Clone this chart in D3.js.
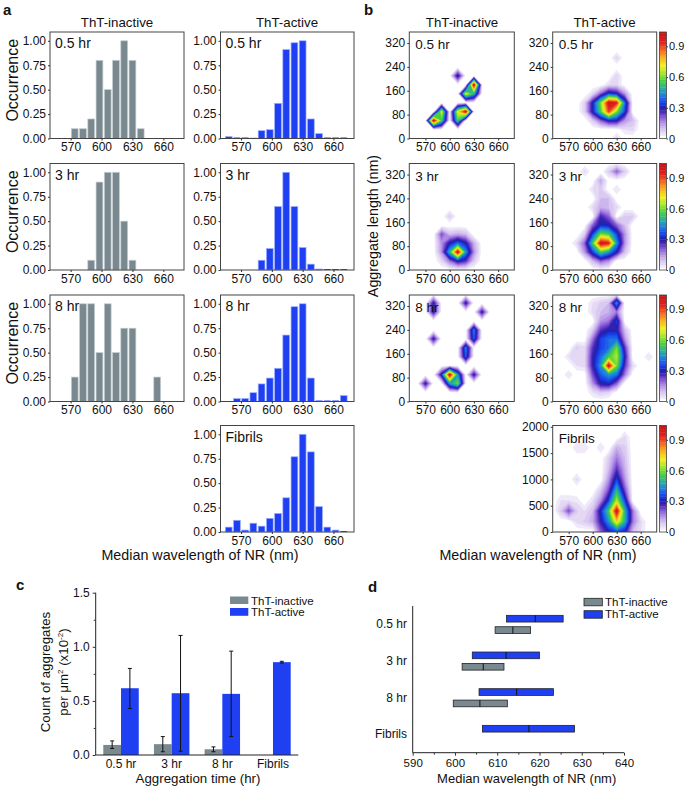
<!DOCTYPE html>
<html><head><meta charset="utf-8">
<script src="https://cdn.jsdelivr.net/npm/d3@7"></script>
<style>
body{margin:0;background:#fff;}
svg{display:block;font-family:"Liberation Sans",Arial,Helvetica,sans-serif;}
</style></head><body>
<svg id="chart" width="685" height="790"></svg>
<script>
// ================= DATA =================
// Panel a: histogram bin centres (nm) and normalised occurrence
const binCenters = [558,566,574,582,590,598,606,614,622,630,638,646,654,662,670];
const nrTicks = [570,600,630,660];
const occTicks = [0,0.25,0.5,0.75,1.0];
const histInactive05 = [null,null,0.1,0.1,0.2,0.8,0.5,0.8,1.0,0.8,0.1,null,null,null,null];
const histInactive3  = [null,null,null,null,0.1,0.9,1.0,1.0,0.5,0.1,null,null,null,null,null];
const histInactive8  = [null,null,0.25,1.0,1.0,0.5,1.0,0.5,0.75,0.75,null,null,0.25,null,null];
const histActive05   = [0.02,0,0,0.005,0.08,0.09,0.36,0.91,0.98,1.0,0.2,0.05,0,0,0];
const histActive3    = [null,null,null,null,0.1,0.22,0.65,1.0,0.65,0.23,0.06,0.01,0,0,0];
const histActive8    = [null,0.03,0.03,0.09,0.18,0.24,0.34,0.68,0.97,1.0,0.24,0,0,0,0.06];
const histFibrils    = [0.05,0.12,0.02,0.09,0.06,0.14,0.19,0.35,0.77,1.0,0.82,0.26,0.05,0.02,0];
const timeLabels = ["0.5 hr","3 hr","8 hr","Fibrils"];

// Panel b: 2D occurrence maps, cells [wavelength nm, aggregate length nm, value]
const lenTicks = [0,80,160,240,320];
const fibLenTicks = [0,500,1000,1500,2000];
const cbarTicks = [0,0.3,0.6,0.9];
const mapInactive05 = [[580,60,1.0],[590,90,0.7],[590,60,0.55],[620,90,1.0],[610,90,0.7],[610,60,0.55],
  [630,180,1.0],[620,150,0.7],[630,150,0.5],[610,210,0.32]];
const mapActive05 = [[620,120,1.0],[630,120,0.95],[620,90,0.9],[630,90,0.6],[610,120,0.6],[610,90,0.55],
  [600,90,0.3],[600,120,0.3],[640,120,0.4],[640,90,0.35],[620,150,0.35],[630,150,0.3],[620,60,0.3],[630,60,0.3],
  [610,150,0.2],[610,60,0.2],[640,150,0.15],[640,60,0.15],[650,60,0.1],[650,30,0.06],[600,60,0.08],[600,150,0.06],
  [630,180,0.06],[620,180,0.05],[590,120,0.07],[590,90,0.07],[630,210,0.07],[630,270,0.07],[630,0,0.07],[640,30,0.05]];
const mapInactive3 = [[610,60,1.0],[600,60,0.5],[620,60,0.45],[610,90,0.4],[600,90,0.3],[620,90,0.3],[610,30,0.3],
  [620,30,0.25],[600,30,0.18],[590,60,0.15],[630,60,0.15],[630,90,0.12],[590,90,0.15],[610,120,0.12],[620,120,0.1],
  [600,120,0.1],[590,120,0.22],[600,180,0.08],[630,30,0.08],[590,30,0.06]];
const mapActive3 = [[610,90,1.0],[620,90,0.95],[610,120,0.6],[620,120,0.55],[600,90,0.55],[630,90,0.45],[610,60,0.55],
  [620,60,0.45],[600,60,0.35],[630,60,0.3],[600,120,0.35],[630,120,0.35],[610,150,0.32],[620,150,0.3],[610,180,0.27],
  [620,180,0.2],[590,90,0.2],[590,60,0.15],[600,150,0.2],[630,150,0.2],[610,30,0.2],[620,30,0.15],[600,30,0.1],
  [640,90,0.15],[640,60,0.1],[640,120,0.15],[650,180,0.08],[640,150,0.1],[610,210,0.12],[620,210,0.1],[610,240,0.1],
  [620,240,0.1],[610,270,0.08],[610,300,0.13],[620,330,0.08],[630,330,0.2],[640,330,0.08],[590,330,0.06],[600,270,0.05],
  [580,90,0.06],[590,120,0.08],[630,270,0.05],[600,210,0.06],[630,210,0.06],[640,180,0.08]];
const mapInactive8 = [[570,60,0.3],[580,210,0.3],[580,300,0.3],[580,330,0.3],[620,330,0.3],[640,300,0.3],[630,240,0.42],
  [630,210,0.38],[620,180,0.42],[620,150,0.38],[630,90,0.3],[600,90,1.0],[610,60,0.6],[600,60,0.45],[610,90,0.45],[590,90,0.32]];
const mapActive8 = [[620,120,1.0],[630,150,0.65],[630,180,0.6],[630,120,0.6],[620,150,0.55],[610,120,0.45],[620,90,0.45],
  [630,90,0.4],[610,90,0.38],[610,150,0.4],[620,180,0.4],[610,180,0.35],[620,210,0.4],[630,210,0.4],[610,60,0.3],
  [620,60,0.32],[630,60,0.2],[600,120,0.28],[600,90,0.22],[600,150,0.28],[600,180,0.25],[610,210,0.35],[600,210,0.18],
  [640,120,0.25],[640,150,0.3],[640,180,0.25],[640,90,0.18],[620,240,0.3],[610,240,0.25],[630,240,0.3],[630,270,0.35],
  [630,300,0.18],[630,330,0.45],[620,300,0.12],[610,300,0.1],[610,270,0.15],[620,270,0.18],[600,300,0.06],[600,330,0.05],
  [610,330,0.08],[620,330,0.1],[600,60,0.15],[600,30,0.05],[610,30,0.08],[620,30,0.06],[590,150,0.06],[580,180,0.08],
  [570,150,0.05],[580,150,0.06],[570,90,0.05],[580,120,0.05],[590,120,0.06],[590,180,0.06],[670,150,0.05],[640,240,0.1],
  [650,120,0.06],[640,210,0.15],[600,240,0.08]];
const mapFibrils = [[630,400,1.0],[630,200,0.75],[630,600,0.65],[630,800,0.5],[620,400,0.55],[640,400,0.5],[620,200,0.45],
  [640,200,0.5],[620,600,0.35],[640,600,0.35],[630,1000,0.35],[630,1200,0.25],[630,1400,0.18],[630,1600,0.12],[610,200,0.28],
  [610,400,0.32],[650,200,0.18],[650,400,0.18],[620,800,0.22],[640,800,0.22],[620,1000,0.15],[640,1000,0.15],[610,600,0.15],
  [600,200,0.12],[600,400,0.1],[590,200,0.08],[580,200,0.06],[570,400,0.22],[560,400,0.08],[580,400,0.08],[570,600,0.05],
  [560,600,0.05],[580,600,0.04],[590,400,0.05],[620,0,0.3],[630,0,0.35],[640,0,0.3],[610,0,0.2],[650,0,0.1],[660,200,0.06],
  [660,0,0.05],[580,1000,0.06],[580,1600,0.05],[590,1600,0.05],[610,1600,0.05],[640,1800,0.06],[640,1600,0.08],
  [620,1200,0.1],[640,1200,0.12],[640,1400,0.1],[620,1400,0.08],[610,800,0.08],[600,600,0.05]];

// Panel c: count of aggregates per um^2 (x10^-2)
const countTicks = [0,0.5,1.0,1.5];
const countInactive = [0.093,0.10,0.053,0];
const countActive = [0.617,0.571,0.565,0.858];
const countInactiveErr = [[0.06,0.13],[0.03,0.17],[0.03,0.075],null];
const countActiveErr = [[0.43,0.80],[0.035,1.105],[0.17,0.96],[0.85,0.866]];

// Panel d: wavelength ranges [low, median, high]
const wlTicks = [590,600,610,620,630,640];
const rangeInactive = [[609.5,613.7,617.9],[601.7,606.7,611.6],[599.6,605.9,612.4],null];
const rangeActive = [[612.2,619.0,625.6],[604.1,612.1,620.0],[605.7,614.6,623.3],[606.5,617.5,628.3]];

// ================= STYLE =================
const GRAY = "#7a8990", BLUE = "#1e40f2";
const cmapStops = [[0,"#ffffff"],[0.03,"#ece4f8"],[0.08,"#d8c6f0"],[0.14,"#b595e6"],[0.2,"#8455d6"],[0.25,"#4a2ab8"],
  [0.29,"#1e1ea8"],[0.34,"#1a40f0"],[0.41,"#1f80e0"],[0.48,"#2ab0a0"],[0.55,"#48d040"],[0.63,"#a8e830"],[0.7,"#f0f020"],
  [0.78,"#f8b020"],[0.86,"#f06020"],[0.93,"#e02020"],[1.05,"#c01010"]];
const cmap = d3.scaleLinear().domain(cmapStops.map(d=>d[0])).range(cmapStops.map(d=>d[1])).clamp(true);
const levels = d3.range(0.025, 1.04, 0.025);

const svg = d3.select("#chart");
const rowTop = [32,163.5,295,425.5], rowH = 106.5;

function txt(g, x, y, s, size, opts={}) {
  const t = g.append("text").attr("x", x).attr("y", y).attr("font-size", size).attr("fill", "#111").text(s);
  if (opts.anchor) t.attr("text-anchor", opts.anchor);
  if (opts.bold) t.attr("font-weight", "bold");
  if (opts.rot) t.attr("transform", `rotate(-90,${x},${y})`);
  return t;
}
function styleAxis(a, size) {
  a.selectAll(".domain").remove();
  a.selectAll("text").attr("font-size", size).attr("fill", "#111").attr("font-family", null);
  a.selectAll("line").attr("stroke", "#333");
}

// ================= PANEL A =================
function histogram(x0, x1, top, data, color, label) {
  const g = svg.append("g");
  const X = d3.scaleLinear().domain([550,680]).range([x0,x1]);
  const Y = d3.scaleLinear().domain([0,1.09]).range([top+rowH, top]);
  data.forEach((v,i) => {
    if (v === null) return;
    const c = binCenters[i];
    const xa = X(c-3.3), xb = X(c+3.3);
    if (v === 0) {
      g.append("line").attr("x1",xa).attr("x2",xb).attr("y1",Y(0)-0.5).attr("y2",Y(0)-0.5).attr("stroke",color).attr("stroke-width",1);
    } else {
      g.append("rect").attr("x",xa).attr("width",xb-xa).attr("y",Y(v)).attr("height",Y(0)-Y(v))
        .attr("fill",color).attr("stroke", color===BLUE ? "#9db0ff" : "#c4ccd0").attr("stroke-width",0.7);
    }
  });
  g.append("rect").attr("x",x0).attr("y",top).attr("width",x1-x0).attr("height",rowH).attr("fill","none").attr("stroke","#444").attr("stroke-width",1);
  const ay = g.append("g").attr("transform",`translate(${x0},0)`).call(d3.axisLeft(Y).tickValues(occTicks).tickSize(2).tickPadding(2).tickFormat(d3.format(".2f")));
  styleAxis(ay, 12);
  const ax = g.append("g").attr("transform",`translate(0,${top+rowH})`).call(d3.axisBottom(X).tickValues(nrTicks).tickSize(2).tickPadding(2));
  styleAxis(ax, 12);
  txt(g, x0+5, top+16, label, 14);
}
const aGray = [histInactive05, histInactive3, histInactive8];
const aBlue = [histActive05, histActive3, histActive8, histFibrils];
aGray.forEach((d,i) => histogram(50, 184, rowTop[i], d, GRAY, timeLabels[i]));
aBlue.forEach((d,i) => histogram(220.5, 354, rowTop[i], d, BLUE, timeLabels[i]));
txt(svg, 3, 15, "a", 15, {bold:true});
txt(svg, 117, 27, "ThT-inactive", 13.3, {anchor:"middle"});
txt(svg, 287, 27, "ThT-active", 13.3, {anchor:"middle"});
[0,1,2].forEach(i => txt(svg, 18, rowTop[i]+rowH/2-5, "Occurrence", 16, {anchor:"middle", rot:true}));
txt(svg, 200, 560, "Median wavelength of NR (nm)", 14.3, {anchor:"middle"});

// ================= PANEL B =================
let clipN = 0;
function heatmap(x0, x1, top, cells, yStep, yMaxDom, yTicks, label) {
  const g = svg.append("g");
  const X = d3.scaleLinear().domain([550,680]).range([x0,x1]);
  const Y = d3.scaleLinear().domain([0,yMaxDom]).range([top+rowH, top]);
  const gx0 = 540, nx = 16;
  const gy0 = -yStep, ny = Math.ceil((yMaxDom + yStep)/yStep) + 2;
  const vals = new Array(nx*ny).fill(0);
  cells.forEach(([w,l,v]) => {
    const i = Math.round((w-gx0)/10), j = Math.round((l-gy0)/yStep);
    vals[j*nx+i] = v;
  });
  const cid = "clip" + (clipN++);
  g.append("clipPath").attr("id",cid).append("rect").attr("x",x0).attr("y",top).attr("width",x1-x0).attr("height",rowH);
  const cg = g.append("g").attr("clip-path",`url(#${cid})`);
  const conts = d3.contours().size([nx,ny]).thresholds(levels)(vals);
  const px = a => X(gx0 + (a-0.5)*10), py = b => Y(gy0 + (b-0.5)*yStep);
  conts.forEach(c => {
    if (!c.coordinates.length) return;
    const d = c.coordinates.map(poly => poly.map(ring => "M" + ring.map(p => px(p[0]).toFixed(2)+","+py(p[1]).toFixed(2)).join("L")+"Z").join("")).join("");
    cg.append("path").attr("d",d).attr("fill",cmap(c.value)).attr("stroke",cmap(c.value)).attr("stroke-width",0.3);
  });
  g.append("rect").attr("x",x0).attr("y",top).attr("width",x1-x0).attr("height",rowH).attr("fill","none").attr("stroke","#444").attr("stroke-width",1);
  const ay = g.append("g").attr("transform",`translate(${x0},0)`).call(d3.axisLeft(Y).tickValues(yTicks).tickSize(2).tickPadding(2).tickFormat(d3.format("d")));
  styleAxis(ay, 12);
  const ax = g.append("g").attr("transform",`translate(0,${top+rowH})`).call(d3.axisBottom(X).tickValues(nrTicks).tickSize(2).tickPadding(2));
  styleAxis(ax, 12);
  txt(g, x0+6, top+17, label, 13.5);
}
function colorbar(x0, top) {
  const g = svg.append("g");
  const C = d3.scaleLinear().domain([0,1.04]).range([top+rowH, top]);
  const w = 7;
  const bands = [0].concat(levels);
  bands.forEach((b,i) => {
    const nb = i+1 < bands.length ? bands[i+1] : 1.04;
    g.append("rect").attr("x",x0).attr("width",w).attr("y",C(nb)).attr("height",C(b)-C(nb)+0.3).attr("fill",cmap(b));
  });
  g.append("rect").attr("x",x0).attr("y",top).attr("width",w).attr("height",rowH).attr("fill","none").attr("stroke","#444").attr("stroke-width",0.8);
  const ax = g.append("g").attr("transform",`translate(${x0+w},0)`).call(d3.axisRight(C).tickValues(cbarTicks).tickSize(1.5).tickPadding(1).tickFormat(d => d===0 ? "0" : d3.format(".1f")(d)));
  styleAxis(ax, 11);
}
const bInactive = [mapInactive05, mapInactive3, mapInactive8];
const bActive = [mapActive05, mapActive3, mapActive8];
bInactive.forEach((m,i) => heatmap(409.3, 514.3, rowTop[i], m, 30, 357, lenTicks, timeLabels[i]));
bActive.forEach((m,i) => heatmap(552.7, 656.7, rowTop[i], m, 30, 357, lenTicks, timeLabels[i]));
heatmap(552.7, 656.7, rowTop[3], mapFibrils, 200, 2025, fibLenTicks, timeLabels[3]);
[0,1,2,3].forEach(i => colorbar(659.5, rowTop[i]));
txt(svg, 364, 15, "b", 15, {bold:true});
txt(svg, 462, 27, "ThT-inactive", 13.3, {anchor:"middle"});
txt(svg, 604.5, 27, "ThT-active", 13.3, {anchor:"middle"});
txt(svg, 378, 226, "Aggregate length (nm)", 14.3, {anchor:"middle", rot:true});
txt(svg, 538, 560, "Median wavelength of NR (nm)", 14.3, {anchor:"middle"});

// ================= PANEL C =================
{
  const g = svg.append("g");
  const X = d3.scaleBand().domain(timeLabels).range([95.7,298.3]).paddingInner(0.3).paddingOuter(0.15);
  const S = d3.scaleBand().domain(["in","act"]).range([0, X.bandwidth()]);
  const Y = d3.scaleLinear().domain([0,1.5]).range([755,592.7]);
  timeLabels.forEach((t,i) => {
    const xb = X(t);
    if (countInactive[i] > 0) g.append("rect").attr("x",xb+S("in")).attr("width",S.bandwidth()).attr("y",Y(countInactive[i])).attr("height",Y(0)-Y(countInactive[i])).attr("fill",GRAY);
    g.append("rect").attr("x",xb+S("act")).attr("width",S.bandwidth()).attr("y",Y(countActive[i])).attr("height",Y(0)-Y(countActive[i])).attr("fill",BLUE);
    [[countInactiveErr[i],"in"],[countActiveErr[i],"act"]].forEach(([e,k]) => {
      if (!e) return;
      const cx = xb + S(k) + S.bandwidth()/2;
      g.append("line").attr("x1",cx).attr("x2",cx).attr("y1",Y(e[0])).attr("y2",Y(e[1])).attr("stroke","#111").attr("stroke-width",1);
      [e[0],e[1]].forEach(v => g.append("line").attr("x1",cx-2).attr("x2",cx+2).attr("y1",Y(v)).attr("y2",Y(v)).attr("stroke","#111").attr("stroke-width",1));
    });
  });
  g.append("line").attr("x1",95.7).attr("x2",95.7).attr("y1",592.7).attr("y2",755).attr("stroke","#222");
  g.append("line").attr("x1",95.7).attr("x2",298.3).attr("y1",755).attr("y2",755).attr("stroke","#222");
  const ay = g.append("g").attr("transform","translate(95.7,0)").call(d3.axisLeft(Y).tickValues(countTicks).tickSize(3).tickPadding(3).tickFormat(d3.format(".1f")));
  styleAxis(ay, 12);
  const ay2 = g.append("g").attr("transform","translate(95.7,0)").call(d3.axisLeft(Y).tickValues([0.25,0.75,1.25]).tickSize(2).tickFormat(""));
  styleAxis(ay2, 12);
  const ax = g.append("g").attr("transform","translate(0,755)").call(d3.axisBottom(X).tickSize(0).tickPadding(4));
  styleAxis(ax, 12);
  txt(svg, 16, 590, "c", 15, {bold:true});
  txt(svg, 49.5, 672, "Count of aggregates", 13.3, {anchor:"middle", rot:true});
  const t2 = svg.append("text").attr("x",68).attr("y",672).attr("font-size",13.3).attr("fill","#111").attr("text-anchor","middle").attr("transform","rotate(-90,68,672)");
  t2.append("tspan").text("per μm");
  t2.append("tspan").attr("font-size",8).attr("dy",-5).text("2");
  t2.append("tspan").attr("dy",5).text(" (x10");
  t2.append("tspan").attr("font-size",8).attr("dy",-5).text("-2");
  t2.append("tspan").attr("dy",5).text(")");
  txt(svg, 198, 783, "Aggregation time (hr)", 13.3, {anchor:"middle"});
  g.append("rect").attr("x",230).attr("y",596.5).attr("width",18.3).attr("height",7.5).attr("fill",GRAY);
  g.append("rect").attr("x",230).attr("y",608).attr("width",18.3).attr("height",7.8).attr("fill",BLUE);
  txt(g, 251, 604.5, "ThT-inactive", 11.5);
  txt(g, 251, 616.3, "ThT-active", 11.5);
}

// ================= PANEL D =================
{
  const g = svg.append("g");
  const X = d3.scaleLinear().domain([590,640]).range([412.7,624]);
  const Y = d3.scaleBand().domain(timeLabels).range([606,752.7]);
  timeLabels.forEach((t,i) => {
    const c = Y(t) + Y.bandwidth()/2;
    [[rangeActive[i], BLUE, c-9],[rangeInactive[i], GRAY, c+2.4]].forEach(([r,col,yy]) => {
      if (!r) return;
      g.append("rect").attr("x",X(r[0])).attr("width",X(r[2])-X(r[0])).attr("y",yy).attr("height",6.7).attr("fill",col).attr("stroke","#222").attr("stroke-width",0.8);
      g.append("line").attr("x1",X(r[1])).attr("x2",X(r[1])).attr("y1",yy).attr("y2",yy+6.7).attr("stroke","#111").attr("stroke-width",1);
    });
    txt(g, 407, c+4, t, 12, {anchor:"end"});
  });
  g.append("line").attr("x1",412.7).attr("x2",412.7).attr("y1",606).attr("y2",752.7).attr("stroke","#222");
  g.append("line").attr("x1",412.7).attr("x2",624).attr("y1",752.7).attr("y2",752.7).attr("stroke","#222");
  const ax = g.append("g").attr("transform","translate(0,752.7)").call(d3.axisBottom(X).tickValues(wlTicks).tickSize(3).tickPadding(3));
  styleAxis(ax, 11.5);
  const ax2 = g.append("g").attr("transform","translate(0,752.7)").call(d3.axisBottom(X).tickValues([595,605,615,625,635]).tickSize(2).tickFormat(""));
  styleAxis(ax2, 11.5);
  txt(svg, 368, 592, "d", 15, {bold:true});
  txt(svg, 526.7, 783, "Median wavelength of NR (nm)", 13, {anchor:"middle"});
  g.append("rect").attr("x",584).attr("y",598.3).attr("width",18.3).attr("height",7.5).attr("fill",GRAY).attr("stroke","#222").attr("stroke-width",0.8);
  g.append("rect").attr("x",584).attr("y",610.7).attr("width",18.3).attr("height",7.5).attr("fill",BLUE).attr("stroke","#222").attr("stroke-width",0.8);
  txt(g, 605, 606, "ThT-inactive", 11.5);
  txt(g, 605, 618.3, "ThT-active", 11.5);
}
</script>
</body></html>
